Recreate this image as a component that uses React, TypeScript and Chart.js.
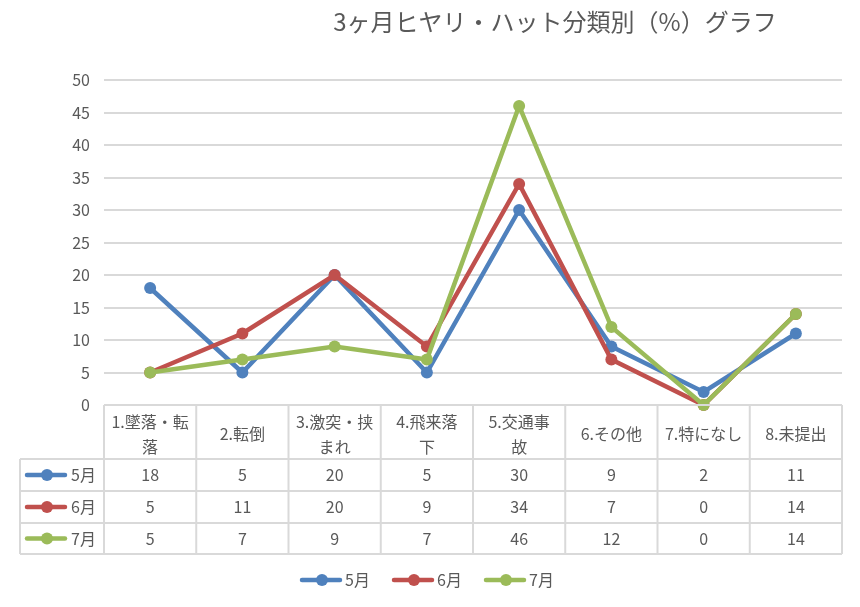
import { useEffect, useRef } from "react"
import { Chart, registerables } from "chart.js"

Chart.register(...registerables)

const title = "3ヶ月ヒヤリ・ハット分類別（%）グラフ"
const categories = [
  ["1.墜落・転", "落"],
  ["2.転倒"],
  ["3.激突・挟", "まれ"],
  ["4.飛来落", "下"],
  ["5.交通事", "故"],
  ["6.その他"],
  ["7.特になし"],
  ["8.未提出"],
]
const seriesNames = ["5月", "6月", "7月"]
const may = [18, 5, 20, 5, 30, 9, 2, 11]
const june = [5, 11, 20, 9, 34, 7, 0, 14]
const july = [5, 7, 9, 7, 46, 12, 0, 14]
const colors = ["#4F81BD", "#C0504D", "#9BBB59"]

const FONT = '"Noto Sans CJK JP", "Noto Sans", sans-serif'
const TEXT = "#595959"
const GRID = "#d9d9d9"

export default function App() {
  const chartRef = useRef<HTMLCanvasElement>(null)
  const chartInstance = useRef<Chart | null>(null)

  useEffect(() => {
    document.body.style.margin = "0"
    if (!chartRef.current) return
    if (chartInstance.current) chartInstance.current.destroy()
    const ctx = chartRef.current.getContext("2d")
    if (!ctx) return

    const values = [may, june, july]

    // draws the legend key (line + dot)
    const drawKey = (c: CanvasRenderingContext2D, x: number, y: number, color: string) => {
      c.strokeStyle = color
      c.lineWidth = 4.5
      c.lineCap = "round"
      c.beginPath()
      c.moveTo(x + 2, y)
      c.lineTo(x + 40, y)
      c.stroke()
      c.fillStyle = color
      c.beginPath()
      c.arc(x + 22, y, 6, 0, Math.PI * 2)
      c.fill()
    }

    // Excel style title, data table and legend
    const tablePlugin = {
      id: "dataTable",
      afterDraw: function (chart: Chart) {
        const c = chart.ctx
        const x = chart.scales.x
        const area = chart.chartArea
        const n = categories.length
        const edges: number[] = [area.left]
        for (let i = 0; i < n - 1; i++) {
          edges.push((x.getPixelForValue(i) + x.getPixelForValue(i + 1)) / 2)
        }
        edges.push(area.right)
        const rows = [area.bottom, 459, 491, 523, 554]
        const tableLeft = 20

        c.save()
        // title
        c.fillStyle = TEXT
        c.font = `24px ${FONT}`
        c.textAlign = "center"
        c.textBaseline = "middle"
        c.fillText(title, 555, 22)

        // grid of table
        c.strokeStyle = GRID
        c.lineWidth = 2
        c.beginPath()
        for (let r = 0; r < rows.length; r++) {
          c.moveTo(r === 0 ? area.left : tableLeft, rows[r])
          c.lineTo(area.right, rows[r])
        }
        for (const e of edges) {
          c.moveTo(e, rows[0])
          c.lineTo(e, rows[rows.length - 1])
        }
        c.moveTo(tableLeft, rows[1])
        c.lineTo(tableLeft, rows[rows.length - 1])
        c.stroke()

        // header
        c.font = `16px ${FONT}`
        c.fillStyle = TEXT
        const headMid = (rows[0] + rows[1]) / 2 + 2
        categories.forEach((lines, i) => {
          const cx = x.getPixelForValue(i)
          const start = headMid - ((lines.length - 1) * 25) / 2
          lines.forEach((l, k) => c.fillText(l, cx, start + k * 25))
        })

        // rows
        values.forEach((vals, s) => {
          const mid = (rows[s + 1] + rows[s + 2]) / 2
          vals.forEach((v, i) => {
            c.fillStyle = TEXT
            c.textAlign = "center"
            c.fillText(String(v), x.getPixelForValue(i), mid)
          })
          drawKey(c, 25, mid, colors[s])
          c.fillStyle = TEXT
          c.textAlign = "left"
          c.fillText(seriesNames[s], 71, mid)
        })

        // legend
        const itemW = 92
        const lx0 = chart.width / 2 - (itemW * seriesNames.length) / 2 + 8
        seriesNames.forEach((name, s) => {
          const lx = lx0 + s * itemW
          drawKey(c, lx, 580, colors[s])
          c.fillStyle = TEXT
          c.textAlign = "left"
          c.fillText(name, lx + 45, 580)
        })
        c.restore()
      },
    }

    chartInstance.current = new Chart(ctx, {
      type: "line",
      data: {
        labels: categories,
        datasets: seriesNames.map((name, s) => ({
          label: name,
          data: values[s],
          borderColor: colors[s],
          backgroundColor: colors[s],
          borderWidth: 4.5,
          pointRadius: 6,
          pointBorderWidth: 0,
          clip: false,
          order: seriesNames.length - s,
        })),
      },
      options: {
        responsive: false,
        animation: false,
        layout: { padding: { top: 80, right: 18, bottom: 202, left: 0 } },
        plugins: {
          legend: { display: false },
          title: { display: false },
          tooltip: { enabled: false },
        },
        scales: {
          x: { display: false, offset: true },
          y: {
            min: 0,
            max: 50,
            ticks: {
              stepSize: 5,
              color: TEXT,
              padding: 14,
              font: { family: FONT, size: 16 },
            },
            grid: { color: GRID, lineWidth: 2, drawTicks: false },
            border: { display: false },
            afterFit: (scale: any) => {
              scale.width = 104
            },
          },
        },
      },
      plugins: [tablePlugin],
    })

    return () => {
      if (chartInstance.current) {
        chartInstance.current.destroy()
        chartInstance.current = null
      }
    }
  }, [])

  return (
    <div style={{ width: 860, height: 607, background: "#fff" }}>
      <canvas ref={chartRef} width={860} height={607} />
    </div>
  )
}
